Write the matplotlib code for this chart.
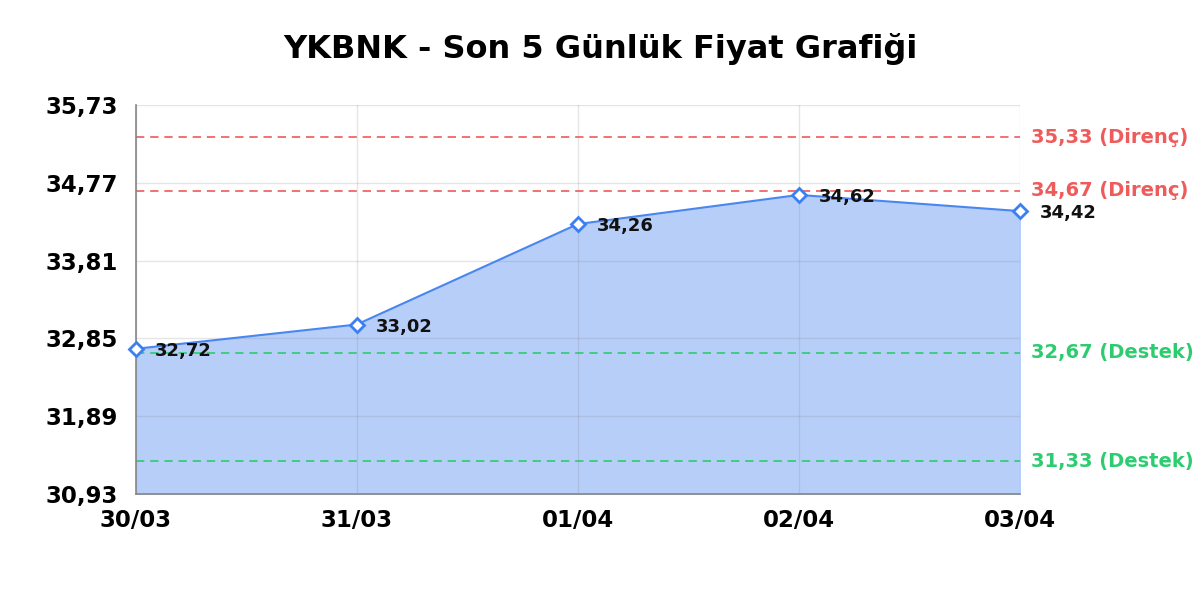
import matplotlib.pyplot as plt
import numpy as np

dates = ["30/03", "31/03", "01/04", "02/04", "03/04"]
prices = [32.72, 33.02, 34.26, 34.62, 34.42]
resistance = [35.33, 34.67]
support = [32.67, 31.33]
y_ticks = [30.93, 31.89, 32.85, 33.81, 34.77, 35.73]

plt.rcParams['font.family'] = ['DejaVu Sans']
plt.rcParams['font.weight'] = 'bold'

fig = plt.figure(figsize=(12, 6), dpi=100)
ax = fig.add_axes([0.113, 0.177, 0.737, 0.648])

x = np.arange(len(dates))
ax.fill_between(x, prices, y_ticks[0], color='#b7cff8', zorder=0.5)
ax.plot(x, prices, color='#4a86f0', lw=1.5, zorder=3)
ax.plot(x, prices, ls='none', marker='D', ms=7, mfc='white', mec='#3b7ff2', mew=2, zorder=4, clip_on=False)

for xi, p in zip(x, prices):
    ax.annotate(f"{p:.2f}".replace(".", ","), (xi, p), xytext=(14, -1.5), textcoords='offset points',
                ha='left', va='center', fontsize=13, fontweight='bold', color='#111111', zorder=5,
                annotation_clip=False)

for r in resistance:
    ax.axhline(r, color='#ef5a5a', ls=(0, (5, 3.5)), lw=1.2, zorder=2)
    ax.text(1.013, r, f"{r:.2f} (Direnç)".replace(".", ","), transform=ax.get_yaxis_transform(),
            ha='left', va='center', fontsize=14, fontweight='bold', color='#ef5a5a')
for s in support:
    ax.axhline(s, color='#2ecc71', ls=(0, (5, 3.5)), lw=1.2, zorder=2)
    ax.text(1.013, s, f"{s:.2f} (Destek)".replace(".", ","), transform=ax.get_yaxis_transform(),
            ha='left', va='center', fontsize=14, fontweight='bold', color='#2ecc71')

ax.set_xlim(0, len(dates) - 1)
ax.set_ylim(y_ticks[0], y_ticks[-1])
ax.set_xticks(x)
ax.set_xticklabels(dates)
ax.set_yticks(y_ticks)
ax.set_yticklabels([f"{v:.2f}".replace(".", ",") for v in y_ticks])
ax.tick_params(axis='both', length=0, labelsize=16.5)
ax.tick_params(axis='y', pad=13)
ax.tick_params(axis='x', pad=11)
for lab in ax.get_xticklabels() + ax.get_yticklabels():
    lab.set_fontweight('bold')

ax.set_axisbelow(False)
ax.grid(True, color='#808080', alpha=0.2, lw=1)
for side in ['top', 'right']:
    ax.spines[side].set_visible(False)
for side in ['left', 'bottom']:
    ax.spines[side].set_color('#888888')
    ax.spines[side].set_linewidth(1.2)

fig.suptitle("YKBNK - Son 5 Günlük Fiyat Grafiği", fontsize=23, fontweight='bold', y=0.945)

fig.savefig("out.png", dpi=100)
